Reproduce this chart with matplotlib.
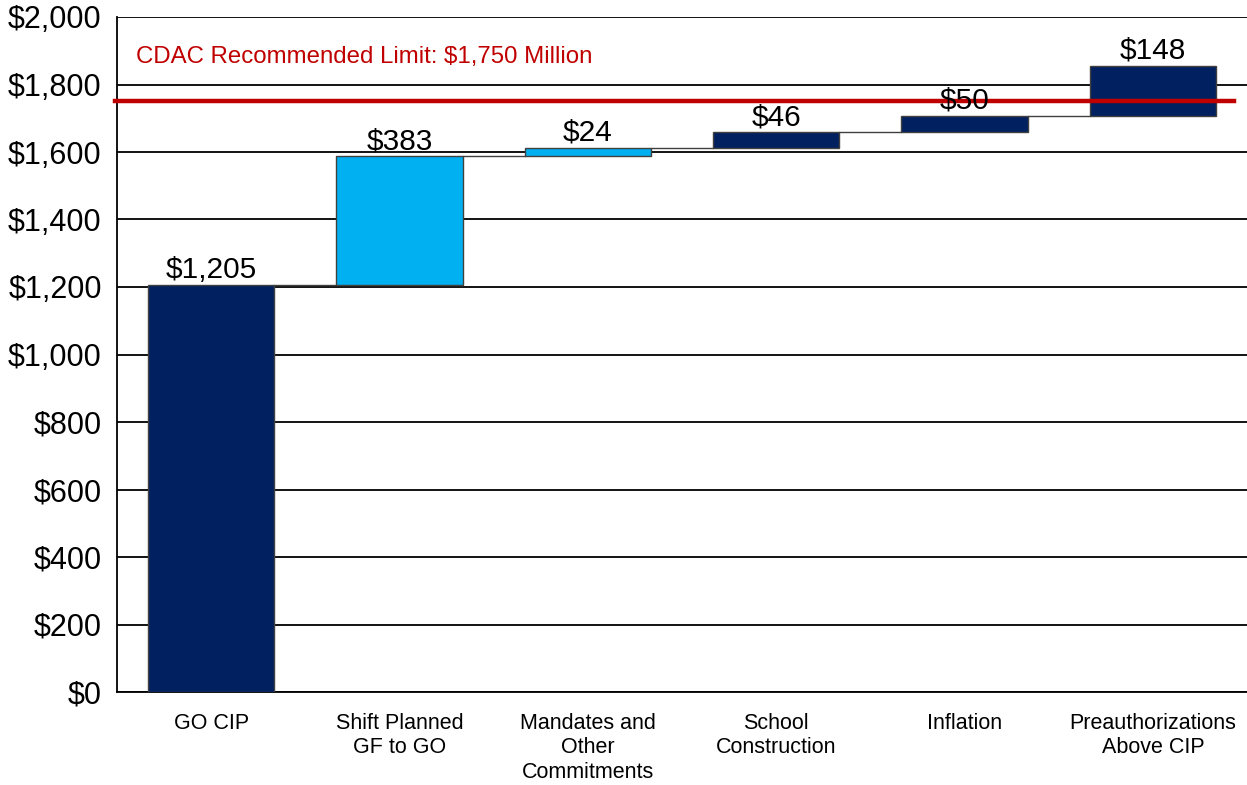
import numpy as np
import matplotlib.pyplot as plt

plt.rcParams['font.family'] = ['Liberation Sans', 'DejaVu Sans']

categories = ['GO CIP', 'Shift Planned\nGF to GO', 'Mandates and\nOther\nCommitments',
              'School\nConstruction', 'Inflation', 'Preauthorizations\nAbove CIP']
values = [1205, 383, 24, 46, 50, 148]
bar_colors = ['#002060', '#00B0F0', '#00B0F0', '#002060', '#002060', '#002060']
limit = 1750
limit_label = 'CDAC Recommended Limit: $1,750 Million'
yticks = np.arange(0, 2001, 200)

values = np.array(values)
tops = np.cumsum(values)
bottoms = tops - values
x = np.arange(len(categories))
bar_width = 0.67

fig = plt.figure(figsize=(12.47, 7.85), dpi=100)
ax = fig.add_axes([117 / 1247, 1 - 692 / 785, 1130 / 1247, 675 / 785])

ax.set_ylim(0, 2000)
ax.set_xlim(-0.5, len(categories) - 0.5)
ax.set_yticks(yticks)
ax.set_yticklabels(['$%s' % format(v, ',') for v in yticks], fontsize=22)
ax.yaxis.grid(True, color='black', linewidth=1.3)
ax.set_axisbelow(True)
ax.tick_params(axis='y', length=0, pad=11)
ax.tick_params(axis='x', length=0, pad=15)
ax.set_xticks(x)
ax.set_xticklabels(categories, fontsize=15.5, linespacing=1.22)

for s in ['top', 'right']:
    ax.spines[s].set_visible(False)
ax.spines['left'].set_linewidth(1.3)
ax.spines['bottom'].set_linewidth(1.3)

bars = ax.bar(x, values, bar_width, bottom=bottoms, color=bar_colors,
              edgecolor='#404040', linewidth=1.0, zorder=3)

# connectors between bars
for i in range(len(values) - 1):
    ax.plot([x[i] + bar_width / 2, x[i + 1] - bar_width / 2], [tops[i], tops[i]],
            color='#404040', linewidth=1.0, zorder=3)

for i, bar in enumerate(bars):
    ax.text(bar.get_x() + bar.get_width() / 2, tops[i] + 3, '$%s' % format(values[i], ','),
            ha='center', va='bottom', fontsize=21.5, zorder=5)

ax.plot([-0.51, 5.43], [limit, limit], color='#C00000', linewidth=3.2, zorder=4,
        clip_on=False)
ax.text(-0.4, 1882, limit_label, color='#C00000', fontsize=17.3, va='center', ha='left')

fig.savefig('out.png', dpi=100)
